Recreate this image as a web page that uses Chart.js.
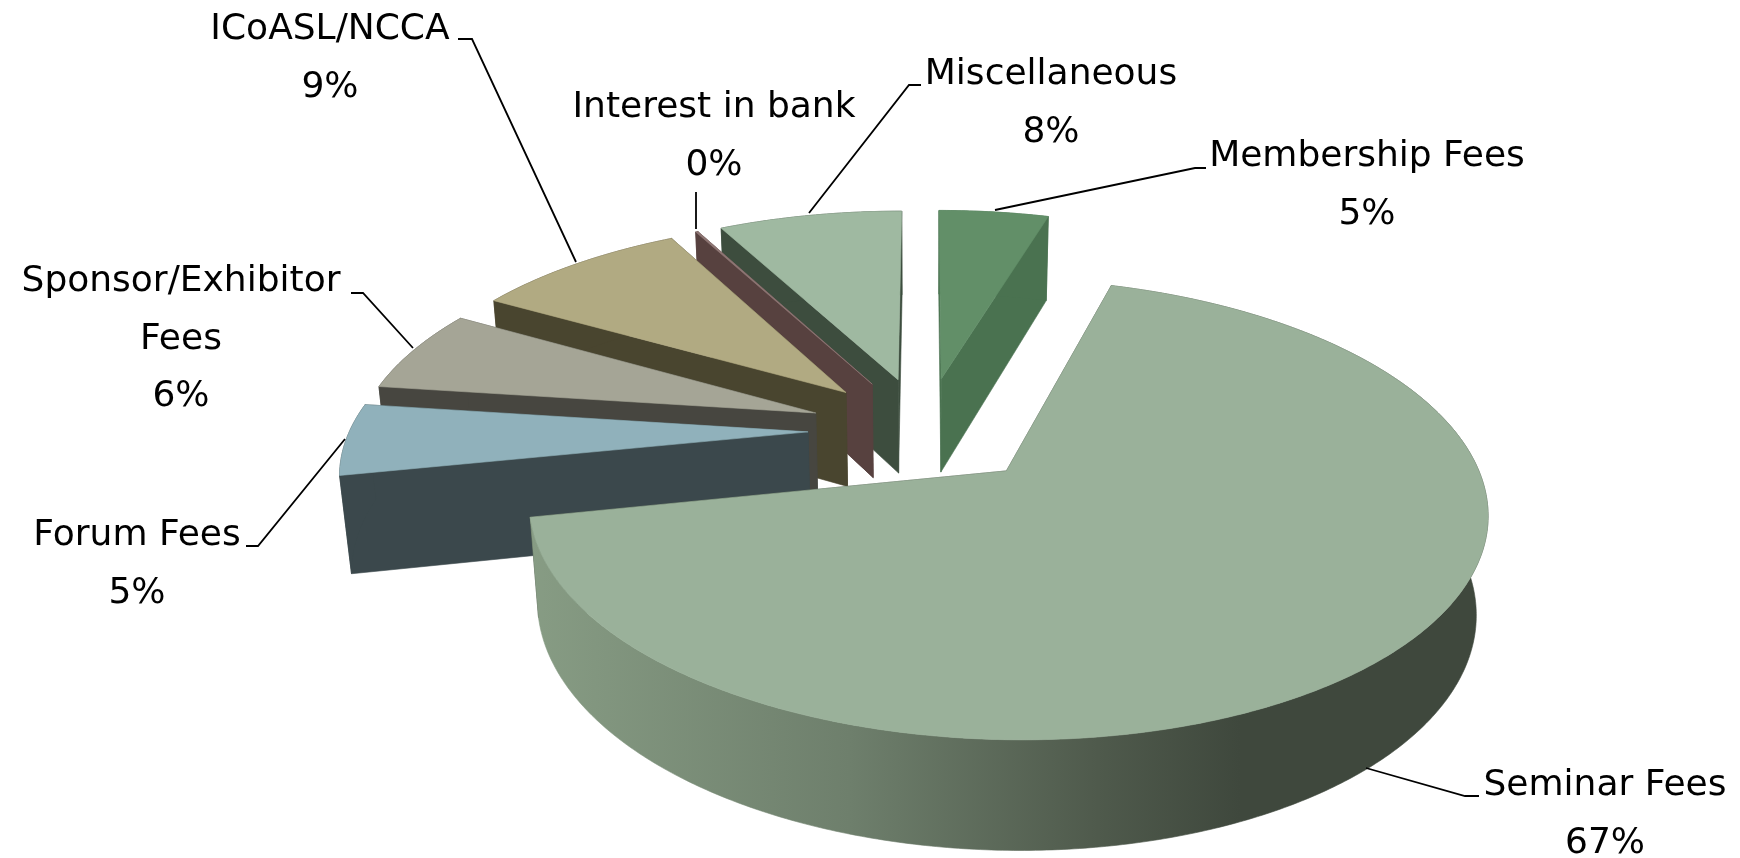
<!DOCTYPE html>
<html>
<head>
<meta charset="utf-8">
<title>Income</title>
<script src="https://cdn.jsdelivr.net/npm/chart.js@4/dist/chart.umd.js"></script>
<style>
  html, body { margin: 0; padding: 0; background: #fff; }
  canvas { display: block; }
</style>
</head>
<body>
<canvas id="pie" width="1740" height="858"></canvas>
<script>
const categories = ["Membership Fees", "Seminar Fees", "Forum Fees", "Sponsor/Exhibitor Fees", "ICoASL/NCCA", "Interest in bank", "Miscellaneous"];
const values = [4.6, 67.2, 5.3, 6.2, 8.9, 0.1, 7.7];

const topColors = ["#628f68", "#9ab19a", "#90b1bb", "#a5a596", "#b1aa82", "#8f7775", "#9fb9a1"];
const wallColors = ["#4a7250", "#3f483d", "#3b484c", "#474640", "#49452f", "#57413f", "#3d4d3e"];

// label layout: centre x, y of each text line, then the leader line
const labelLines = [["Membership Fees"], ["Seminar Fees"], ["Forum Fees"], ["Sponsor/Exhibitor", "Fees"], ["ICoASL/NCCA"], ["Interest in bank"], ["Miscellaneous"]];
const labelPos = [[1367, 157], [1605, 786], [137, 536], [181, 282], [330, 30], [714, 108], [1051, 75]];
const leaders = [
  [[1206, 168], [1195, 168], [995, 210]],
  [[1479, 796], [1465, 796], [1366, 768]],
  [[246, 546], [258, 546], [345, 439]],
  [[351, 293], [363, 293], [413, 348]],
  [[458, 39], [472, 39], [576, 262]],
  [[696, 192], [696, 229]],
  [[921, 85], [909, 85], [809, 213]]
];
const lineHeight = 57.5;

// camera for the tilted pie
const cx = 925, cy = 430, focal = 2520, dist = 5.5;
const sinE = 0.46, cosE = 0.888;
const thick = 0.2405, explode = 0.255;

function project(X, Y, Z) {
  const w = dist + Y * cosE - Z * sinE;
  return [cx + focal * X / w, cy - focal * (Y * sinE + Z * cosE) / w];
}

class Arc3D extends Chart.elements.ArcElement {
  draw(ctx) {
    const t0 = this.startAngle + Math.PI / 2;
    const t1 = this.endAngle + Math.PI / 2;
    const mid = (t0 + t1) / 2;
    const ox = explode * Math.sin(mid), oy = explode * Math.cos(mid);
    const rim = (t, z) => project(ox + Math.sin(t), oy + Math.cos(t), z);
    const apex = z => project(ox, oy, z);
    const idx = this.$context.dataIndex;

    const fill = (pts, color) => {
      ctx.beginPath();
      pts.forEach((p, i) => i ? ctx.lineTo(p[0], p[1]) : ctx.moveTo(p[0], p[1]));
      ctx.closePath();
      ctx.fillStyle = color;
      ctx.strokeStyle = color;
      ctx.lineWidth = 0.6;
      ctx.fill();
      ctx.stroke();
    };

    const steps = Math.max(2, Math.ceil((t1 - t0) / 0.01));
    const arcTop = [], arcBottom = [];
    for (let i = 0; i <= steps; i++) {
      const t = t0 + (t1 - t0) * i / steps;
      arcTop.push(rim(t, 0));
      arcBottom.push(rim(t, -thick));
    }

    const wall = this.options.borderColor;
    const cut = t => [apex(0), rim(t, 0), rim(t, -thick), apex(-thick)];
    // far cut face first
    const cuts = Math.cos(t0) > Math.cos(t1) ? [t0, t1] : [t1, t0];
    cuts.forEach(t => fill(cut(t), wall));

    let side = wall;
    if (idx === 1) {
      side = ctx.createLinearGradient(530, 0, 1240, 0);
      side.addColorStop(0, "#879c84");
      side.addColorStop(0.45, "#6e7f6c");
      side.addColorStop(0.8, "#4f5a4c");
      side.addColorStop(1, "#3f483d");
    }
    fill(arcTop.concat(arcBottom.slice().reverse()), side);
    fill([apex(0)].concat(arcTop), this.options.backgroundColor);
  }
}
Arc3D.id = "arc3d";

class Pie3D extends Chart.controllers.pie {
  draw() {
    const meta = this.getMeta();
    const ctx = this.chart.ctx;
    // back to front
    const order = meta.data.map((a, i) => i).sort((a, b) => {
      const m = i => (meta.data[i].startAngle + meta.data[i].endAngle) / 2 + Math.PI / 2;
      return Math.cos(m(b)) - Math.cos(m(a));
    });
    order.forEach(i => meta.data[i].draw(ctx));
  }
}
Pie3D.id = "pie3d";
Pie3D.defaults = { dataElementType: "arc3d" };

Chart.register(Arc3D, Pie3D);

const labelsPlugin = {
  id: "outerLabels",
  afterDraw(chart) {
    const ctx = chart.ctx;
    const total = values.reduce((a, b) => a + b, 0);
    ctx.save();
    ctx.strokeStyle = "#000";
    ctx.lineWidth = 1.8;
    leaders.forEach(l => {
      ctx.beginPath();
      l.forEach((p, i) => i ? ctx.lineTo(p[0], p[1]) : ctx.moveTo(p[0], p[1]));
      ctx.stroke();
    });
    ctx.fillStyle = "#000";
    ctx.font = "36px 'DejaVu Sans'";
    ctx.textAlign = "center";
    ctx.textBaseline = "middle";
    categories.forEach((c, i) => {
      const lines = labelLines[i].concat([Math.round(values[i] / total * 100) + "%"]);
      lines.forEach((t, j) => ctx.fillText(t, labelPos[i][0], labelPos[i][1] + j * lineHeight));
    });
    ctx.restore();
  }
};

new Chart(document.getElementById("pie"), {
  type: "pie3d",
  data: {
    labels: categories,
    datasets: [{ data: values, backgroundColor: topColors, borderColor: wallColors }]
  },
  options: {
    responsive: false,
    animation: false,
    events: [],
    plugins: { legend: { display: false }, tooltip: { enabled: false } }
  },
  plugins: [labelsPlugin]
});
</script>
</body>
</html>
